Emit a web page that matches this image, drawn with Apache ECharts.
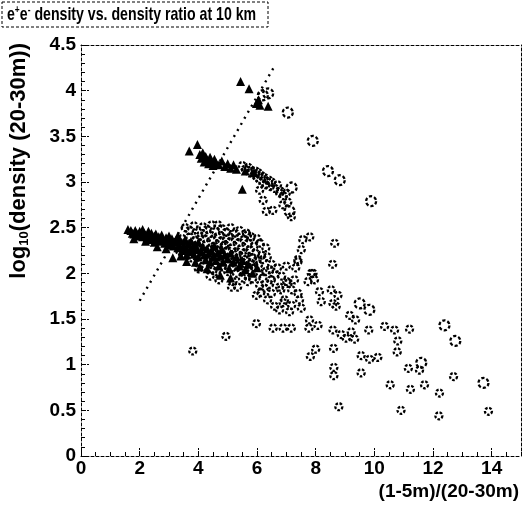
<!DOCTYPE html>
<html><head><meta charset="utf-8">
<script src="https://cdn.jsdelivr.net/npm/echarts@6/dist/echarts.min.js"></script>
<style>html,body{margin:0;padding:0;background:#fff}#c{width:522px;height:506px}</style>
</head><body><div id="c"></div>
<script>
const xTicks = [0, 2, 4, 6, 8, 10, 12, 14];
const yTicks = [0, 0.5, 1, 1.5, 2, 2.5, 3, 3.5, 4, 4.5];
const fitLine = [[2.0, 1.70], [6.6, 4.27]];

const triangles = [
[1.6,2.48],[1.7,2.47],[1.75,2.44],[1.8,2.43],[1.85,2.47],[1.9,2.44],[1.95,2.41],[2.0,2.46],[2.05,2.42],[2.1,2.48],[2.1,2.40],[2.15,2.44],[2.2,2.42],[2.25,2.39],[2.3,2.46],[2.3,2.37],[2.35,2.41],[2.4,2.44],[2.45,2.38],[2.5,2.41],[2.5,2.34],[2.55,2.43],[2.6,2.37],[2.65,2.40],[2.7,2.35],[2.75,2.42],[2.8,2.36],[2.85,2.33],[2.9,2.39],[2.95,2.35],[3.0,2.31],[3.0,2.41],[3.05,2.34],[3.1,2.38],[3.15,2.30],[3.2,2.34],[3.25,2.37],[3.3,2.28],[3.3,2.41],[3.35,2.31],[3.4,2.35],[3.45,2.25],[3.5,2.30],[3.55,2.37],[3.6,2.27],[3.6,2.20],[3.65,2.32],[3.7,2.24],[3.75,2.35],[3.8,2.28],[3.85,2.21],[3.9,2.31],[3.95,2.26],[4.0,2.18],[4.0,2.34],[4.05,2.07],[4.1,2.24],[4.15,2.29],[4.2,2.20],[4.25,2.15],[4.3,2.27],[4.35,2.22],[4.4,2.12],[4.45,2.25],[4.5,2.18],[4.55,2.30],[4.6,2.14],[4.65,2.22],[4.7,2.08],[4.75,2.19],[4.8,2.26],[4.85,2.12],[4.9,2.20],[5.0,2.16],[5.05,2.05],[5.1,2.22],[5.2,2.12],[5.3,2.18],[5.4,2.08],[5.5,2.14],[5.6,2.04],[5.7,2.10],[5.85,2.00],[6.0,2.06],[3.13,2.17],[3.6,2.13],[2.6,2.29],[2.9,2.27],[3.4,2.19],[3.9,2.12],[4.3,2.05],[4.75,1.98],[5.1,1.95],[2.2,2.35],[1.8,2.38],[5.5,2.92],
[3.69,3.34],[3.97,3.41],[4.05,3.30],[4.1,3.26],[4.15,3.32],[4.2,3.22],[4.25,3.28],[4.3,3.24],[4.35,3.20],[4.4,3.27],[4.45,3.22],[4.5,3.18],[4.55,3.25],[4.6,3.21],[4.7,3.19],[4.8,3.23],[4.9,3.17],[5.0,3.20],[5.1,3.15],[5.2,3.19],[5.3,3.14],[5.6,3.12],[5.9,3.10],
[5.44,4.10],[5.73,4.02],[5.98,3.86],[6.05,3.90],[6.1,3.84],[6.38,3.83]
];

const circlesSmall = [
[5.5,3.18],[5.6,3.14],[5.7,3.16],[5.75,3.10],[5.8,3.13],[5.9,3.08],[5.95,3.12],[6.0,3.05],[6.05,3.10],[6.1,3.02],[6.15,3.07],[6.2,3.00],[6.25,3.05],[6.3,2.97],[6.4,3.02],[6.45,2.95],[6.5,3.00],[6.6,2.93],[6.7,2.97],[6.8,2.90],[6.9,2.85],[7.0,2.88],[6.09,2.91],[6.21,2.80],[6.32,2.68],[6.54,2.69],[6.77,2.88],[6.88,2.75],[7.17,2.62],[7.05,2.78],
[3.55,2.50],[3.7,2.47],[3.85,2.52],[4.0,2.45],[4.16,2.51],[4.3,2.48],[4.45,2.53],[4.6,2.46],[4.67,2.53],[4.8,2.49],[4.95,2.45],[5.1,2.50],[5.25,2.44],[5.4,2.47],[5.64,2.44],[5.8,2.40],[6.0,2.38],[5.68,2.42],
[3.45,2.38],[3.71,2.40],[3.9,2.36],[4.05,2.41],[4.2,2.38],[4.35,2.42],[4.5,2.37],[4.65,2.40],[4.8,2.36],[4.95,2.39],[5.1,2.35],[5.25,2.38],[5.4,2.34],[5.55,2.37],[5.7,2.33],[5.9,2.30],[6.1,2.33],[6.3,2.28],
[3.43,2.33],[3.6,2.30],[3.8,2.27],[3.95,2.31],[4.1,2.28],[4.25,2.32],[4.4,2.27],[4.55,2.30],[4.7,2.26],[4.85,2.29],[5.0,2.25],[5.15,2.28],[5.3,2.24],[5.45,2.27],[5.6,2.23],[5.75,2.26],[5.95,2.22],[6.15,2.20],[6.35,2.18],
[3.37,2.24],[3.55,2.20],[3.75,2.17],[3.95,2.21],[4.1,2.15],[4.33,2.13],[4.45,2.19],[4.6,2.16],[4.75,2.21],[4.9,2.14],[5.05,2.18],[5.2,2.13],[5.35,2.17],[5.5,2.12],[5.65,2.16],[5.8,2.11],[6.0,2.14],[6.2,2.15],[6.5,2.10],
[4.0,2.05],[4.25,2.08],[4.5,2.03],[4.62,2.02],[4.8,2.07],[5.0,2.02],[5.15,2.06],[5.3,2.00],[5.45,2.04],[5.6,1.99],[5.75,2.03],[5.92,2.06],[6.1,2.00],[6.43,2.04],[6.7,2.06],[7.32,2.06],[7.40,2.13],[7.0,2.08],
[4.4,1.97],[4.7,1.93],[5.18,1.91],[5.13,1.85],[5.34,1.85],[5.5,1.95],[5.68,1.91],[5.85,1.94],[6.09,1.87],[6.2,1.95],[6.43,1.88],[6.49,1.93],[6.77,1.85],[6.84,1.97],[7.01,1.91],[7.06,1.89],[7.28,1.93],[7.74,1.91],[7.91,2.00],[6.81,1.82],[7.18,1.82],
[5.98,1.76],[6.13,1.79],[6.36,1.71],[6.49,1.78],[6.60,1.64],[6.89,1.68],[6.94,1.71],[7.11,1.58],[7.18,1.65],[7.40,1.78],[7.45,1.71],[7.51,1.62],[6.77,1.60],
[4.9,2.31],[5.2,2.21],[5.55,2.19],[5.85,2.17],[5.3,2.09],[5.7,2.07],[6.05,2.09],[6.3,2.02],[4.75,2.12],[5.05,2.10],[6.6,1.98],[6.25,1.84],
[7.8,2.40],[7.56,2.37],[7.51,2.26],[7.39,2.15],[8.65,2.33],[8.58,2.10],[7.96,1.93],[7.85,2.00],
[3.81,1.15],[4.94,1.31],[8.13,1.80],[8.53,1.82],[8.76,1.76],[8.19,1.69],[8.59,1.67],[8.70,1.64],[9.16,1.54],[9.36,1.49],[5.98,1.45],[6.55,1.40],[6.89,1.40],[7.17,1.40],[7.79,1.49],[8.08,1.43],[7.77,1.40],[8.59,1.38],[8.87,1.33],[9.21,1.36],[9.04,1.29],[9.33,1.28],[9.81,1.38],[10.35,1.42],[10.69,1.38],[11.2,1.39],[10.80,1.26],[10.78,1.14],[9.55,1.10],[9.84,1.06],[10.12,1.08],[8.61,1.18],[8.0,1.17],[7.82,1.09],[11.16,0.96],[11.54,0.94],[8.62,0.97],[8.62,0.88],[9.55,0.91],[10.54,0.78],[11.23,0.73],[11.71,0.78],[12.22,0.69],[12.70,0.87],[8.79,0.54],[10.91,0.50],[12.20,0.44],[13.89,0.49]
];

const circlesLarge = [
[6.2,3.95],[6.38,3.97],[7.05,3.76],[7.9,3.45],[8.42,3.12],[8.82,3.02],[9.89,2.79],[7.18,2.94],[7.11,2.68],[9.50,1.67],[9.83,1.60],[12.39,1.43],[12.76,1.26],[13.72,0.80],[11.6,1.02]
];

const chart = echarts.init(document.getElementById('c'));
const F = 'Liberation Sans, Arial, sans-serif';
const dash = [3, 2];
chart.setOption({
  animation: false,
  grid: {left: 81, right: 1, top: 45, bottom: 50},
  xAxis: [
    {type: 'value', min: 0, max: 15, interval: 2, position: 'bottom',
     axisLine: {show: true, onZero: false, lineStyle: {color: '#000', width: 1, type: dash}},
     axisTick: {show: true, inside: true, length: 9, lineStyle: {color: '#000', type: [2, 1]}},
     axisLabel: {color: '#000', fontFamily: F, fontWeight: 'bold', fontSize: 19, margin: 3, showMaxLabel: false,
       formatter: v => xTicks.indexOf(v) >= 0 ? String(v) : ''},
     splitLine: {show: false}},
    {type: 'value', min: 0, max: 15, interval: 0.5, position: 'bottom',
     axisLine: {show: false}, axisLabel: {show: false}, splitLine: {show: false},
     axisTick: {show: true, inside: true, length: 4, lineStyle: {color: '#000'}}},
    {type: 'value', min: 0, max: 15, position: 'top',
     axisLine: {show: true, onZero: false, lineStyle: {color: '#000', width: 1, type: dash}},
     axisTick: {show: false}, axisLabel: {show: false}, splitLine: {show: false}}
  ],
  yAxis: [
    {type: 'value', min: 0, max: 4.5, interval: 0.5, position: 'left',
     axisLine: {show: true, onZero: false, lineStyle: {color: '#000', width: 1, type: dash}},
     axisTick: {show: true, inside: true, length: 9, lineStyle: {color: '#000', type: [2, 1]}},
     axisLabel: {color: '#000', fontFamily: F, fontWeight: 'bold', fontSize: 19, margin: 5,
       formatter: v => yTicks.indexOf(Math.round(v * 10) / 10) >= 0 ? String(Math.round(v * 10) / 10) : ''},
     splitLine: {show: false}},
    {type: 'value', min: 0, max: 4.5, interval: 0.1, position: 'left',
     axisLine: {show: false}, axisLabel: {show: false}, splitLine: {show: false},
     axisTick: {show: true, inside: true, length: 4, lineStyle: {color: '#000'}}},
    {type: 'value', min: 0, max: 4.5, position: 'right',
     axisLine: {show: true, onZero: false, lineStyle: {color: '#000', width: 1, type: dash}},
     axisTick: {show: false}, axisLabel: {show: false}, splitLine: {show: false}}
  ],
  series: [
    {type: 'line', data: fitLine, symbol: 'none', silent: true,
     lineStyle: {color: '#000', width: 2.4, type: [2, 5]}, z: 1},
    {type: 'scatter', data: triangles, symbol: 'triangle', symbolSize: 9,
     itemStyle: {color: '#000', opacity: 1}, z: 3},
    {type: 'scatter', data: circlesSmall, symbol: 'circle', symbolSize: 7,
     itemStyle: {color: 'none', borderColor: '#000', borderWidth: 2.3, borderType: [2.6, 1.6], opacity: 1}, z: 2},
    {type: 'scatter', data: circlesLarge, symbol: 'circle', symbolSize: 10,
     itemStyle: {color: 'none', borderColor: '#000', borderWidth: 2.3, borderType: [3.2, 2], opacity: 1}, z: 2}
  ],
  graphic: [
    {type: 'rect', shape: {x: 2, y: 2, width: 266, height: 25},
     style: {fill: '#fff', stroke: '#000', lineWidth: 1, lineDash: [3, 2]}},
    {type: 'text', x: 7, y: 15, scaleX: 0.765,
     style: {text: '{a|e}{s|+}{a|e}{s|-}{a| density vs. density ratio at 10 km}', verticalAlign: 'middle',
       rich: {a: {fontFamily: F, fontWeight: 'bold', fontSize: 18.5, fill: '#000'},
              s: {fontFamily: F, fontWeight: 'bold', fontSize: 11, fill: '#000', padding: [0, 0, 11, 0]}}}},
    {type: 'text', x: 519, y: 492,
     style: {text: '(1-5m)/(20-30m)', fontFamily: F, fontWeight: 'bold', fontSize: 19, fill: '#000',
       align: 'right', verticalAlign: 'middle'}},
    {type: 'text', x: 19, y: 43, rotation: Math.PI / 2,
     style: {text: '{a|log}{s|10}{a|(density (20-30m))}', align: 'right', verticalAlign: 'middle',
       rich: {a: {fontFamily: F, fontWeight: 'bold', fontSize: 22, fill: '#000'},
              s: {fontFamily: F, fontWeight: 'bold', fontSize: 13, fill: '#000', padding: [10, 0, 0, 0]}}}}
  ]
});
</script></body></html>
